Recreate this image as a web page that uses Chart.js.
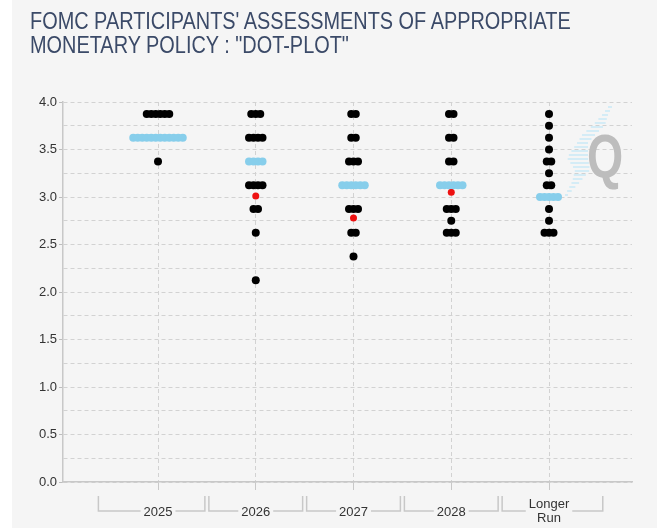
<!DOCTYPE html>
<html lang="en">
<head>
  <meta charset="UTF-8" />
  <title>FOMC dot plot</title>
  <script src="https://cdn.jsdelivr.net/npm/chart.js"></script>
  <style>
    * { box-sizing: border-box; }
    body { margin: 0; background: #fff; font-family: "Liberation Sans", Arial, sans-serif; }
    .panel {
      position: absolute; left: 12px; top: 0;
      width: 645px; height: 528px;
      background: #f5f5f5;
    }
    .panel canvas { position: absolute; left: 0; top: 0; }
    h1 {
      position: absolute; left: 18px; top: 9px; margin: 0;
      font-family: "Liberation Sans", Arial, sans-serif;
      font-weight: normal; font-size: 23px; line-height: 24px;
      color: #3b4a68; white-space: nowrap;
      transform: scaleX(0.865); transform-origin: left top;
    }
  </style>
</head>
<body>
  <div class="panel">
    <canvas id="dotChart" width="645" height="528"></canvas>
    <h1>FOMC PARTICIPANTS' ASSESSMENTS OF APPROPRIATE<br>MONETARY POLICY : "DOT-PLOT"</h1>
  </div>

  <script>
    const categories = ["2025", "2026", "2027", "2028", ["Longer", "Run"]];

    // rate levels per horizon and how many participants put a dot there
    const rates2025 = [3.875, 3.625, 3.375];
    const counts2025 = [6, 12, 1];
    const rates2026 = [3.875, 3.625, 3.375, 3.125, 2.875, 2.625, 2.125];
    const counts2026 = [3, 4, 4, 4, 2, 1, 1];
    const rates2027 = [3.875, 3.625, 3.375, 3.125, 2.875, 2.625, 2.375];
    const counts2027 = [2, 2, 3, 6, 3, 2, 1];
    const rates2028 = [3.875, 3.625, 3.375, 3.125, 2.875, 2.75, 2.625];
    const counts2028 = [2, 2, 2, 6, 3, 1, 3];
    const ratesLonger = [3.875, 3.75, 3.625, 3.5, 3.375, 3.25, 3.125, 3.0, 2.875, 2.75, 2.625];
    const countsLonger = [1, 1, 1, 1, 2, 1, 2, 5, 1, 1, 3];

    const medians = [3.625, 3.375, 3.125, 3.125, 3.0];
    const marketPath = [null, 3.01, 2.78, 3.05, null];

    const allRates = [rates2025, rates2026, rates2027, rates2028, ratesLonger];
    const allCounts = [counts2025, counts2026, counts2027, counts2028, countsLonger];

    const X_MIN = -0.972, X_MAX = 4.849;
    const AREA_W = 569;
    const DOT_STEP = 4.5 * (X_MAX - X_MIN) / AREA_W; // dots side by side, 4.5px apart

    const blackDots = [], blueDots = [], redDots = [];
    allRates.forEach((rates, i) => {
      rates.forEach((r, j) => {
        const n = allCounts[i][j];
        for (let k = 0; k < n; k++) {
          const pt = { x: i + (k - (n - 1) / 2) * DOT_STEP, y: r };
          if (r === medians[i]) blueDots.push(pt); else blackDots.push(pt);
        }
      });
      if (marketPath[i] !== null) redDots.push({ x: i, y: marketPath[i] });
    });

    const FONT = '"Liberation Sans", Arial, sans-serif';

    const bracketPlugin = {
      id: "brackets",
      beforeDatasetsDraw(chart) {
        // faint "Q" logo behind the data
        const ctx = chart.ctx;
        const logo = [[107, 596, 600], [115, 590, 596], [125, 581, 593], [135, 570, 583],
                      [143, 565, 576], [150, 560, 576], [158, 555, 576], [170, 563, 578],
                      [182, 560, 568], [195, 553, 556]];
        ctx.save();
        ctx.strokeStyle = "#c8e9f6";
        ctx.lineWidth = 1.5;
        for (let y = 107; y <= 195; y += 4) {
          let a = logo[0], b = logo[logo.length - 1];
          for (let m = 0; m < logo.length - 1; m++) {
            if (y >= logo[m][0] && y <= logo[m + 1][0]) { a = logo[m]; b = logo[m + 1]; break; }
          }
          const t = (y - a[0]) / ((b[0] - a[0]) || 1);
          const l = a[1] + (b[1] - a[1]) * t, r = a[2] + (b[2] - a[2]) * t;
          ctx.beginPath(); ctx.moveTo(l, y); ctx.lineTo(r, y); ctx.stroke();
        }
        ctx.fillStyle = "#bdbdbd";
        ctx.font = "bold 62px " + FONT;
        ctx.textBaseline = "alphabetic";
        ctx.textAlign = "left";
        ctx.translate(575, 177);
        ctx.scale(0.75, 1);
        ctx.fillText("Q", 0, 0);
        ctx.restore();
      },
      afterDraw(chart) {
        const { ctx, scales: { x } } = chart;
        const centers = categories.map((c, i) => x.getPixelForValue(i));
        const sp = centers[1] - centers[0];
        const top = x.top + 14, bottom = x.top + 29;
        ctx.save();
        ctx.strokeStyle = "#c8c8c8";
        ctx.lineWidth = 1.5;
        ctx.fillStyle = "#333";
        ctx.font = "13px " + FONT;
        ctx.textAlign = "center";
        ctx.textBaseline = "middle";
        centers.forEach((cx, i) => {
          const left = i === 0 ? cx - 0.61 * sp : (centers[i - 1] + cx) / 2 + 2;
          const right = i === centers.length - 1 ? cx + 0.55 * sp : (cx + centers[i + 1]) / 2 - 2;
          const lines = Array.isArray(categories[i]) ? categories[i] : [categories[i]];
          const w = Math.max(...lines.map(s => ctx.measureText(s).width));
          ctx.beginPath();
          ctx.moveTo(left, top); ctx.lineTo(left, bottom); ctx.lineTo(cx - w / 2 - 3, bottom);
          ctx.moveTo(cx + w / 2 + 3, bottom); ctx.lineTo(right, bottom); ctx.lineTo(right, top);
          ctx.stroke();
          if (lines.length === 1) {
            ctx.fillText(lines[0], cx, bottom + 1);
          } else {
            ctx.fillText(lines[0], cx, bottom - 7);
            ctx.fillText(lines[1], cx, bottom + 7);
          }
        });
        ctx.restore();
      }
    };

    new Chart(document.getElementById("dotChart"), {
      type: "scatter",
      data: {
        datasets: [
          { label: "Participants", data: blackDots, backgroundColor: "#000", borderWidth: 0, pointRadius: 4, pointHoverRadius: 4 },
          { label: "Median", data: blueDots, backgroundColor: "#87ceeb", borderWidth: 0, pointRadius: 4, pointHoverRadius: 4 },
          { label: "Market", data: redDots, backgroundColor: "#ee1111", borderWidth: 0, pointRadius: 3.5, pointHoverRadius: 3.5 }
        ]
      },
      options: {
        responsive: false,
        animation: false,
        layout: { autoPadding: false, padding: { top: 102, right: 25, bottom: 0, left: 0 } },
        plugins: { legend: { display: false }, tooltip: { enabled: false } },
        scales: {
          x: {
            type: "linear",
            min: X_MIN,
            max: X_MAX,
            afterBuildTicks: scale => { scale.ticks = categories.map((c, i) => ({ value: i })); },
            afterFit: scale => { scale.height = 46; },
            ticks: { display: false },
            grid: { color: "#d2d2d2", tickLength: 8, tickColor: "#c8c8c8" },
            border: { color: "#c8c8c8", width: 1.5, dash: [4, 3] }
          },
          y: {
            min: 0,
            max: 4,
            afterFit: scale => { scale.width = 51; },
            ticks: {
              stepSize: 0.25,
              autoSkip: false,
              padding: 2,
              color: "#333",
              font: { family: FONT, size: 13 },
              callback: v => (v % 0.5 === 0 ? v.toFixed(1) : "")
            },
            grid: {
              color: "#d2d2d2",
              tickLength: 4,
              tickColor: c => (c.tick && c.tick.value % 0.5 === 0 ? "#bdbdbd" : "rgba(0,0,0,0)")
            },
            border: { color: "#c8c8c8", width: 1.5, dash: [4, 3] }
          }
        }
      },
      plugins: [bracketPlugin]
    });
  </script>
</body>
</html>
